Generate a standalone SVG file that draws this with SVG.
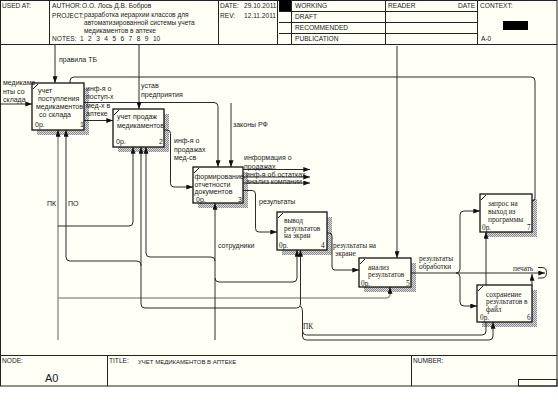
<svg xmlns="http://www.w3.org/2000/svg" width="558" height="404" viewBox="0 0 558 404">
<style>
.f{fill:none;stroke:#222;stroke-width:1}
.t{font-family:"Liberation Sans",Arial,sans-serif;font-size:7px;fill:#1a1a1a}
.h{font-family:"Liberation Sans",Arial,sans-serif;font-size:6.6px;fill:#1a1a1a}
.s{font-family:"Liberation Serif","Times New Roman",serif;font-size:7.3px;fill:#1a1a1a}
.c{fill:none;stroke:#2a2a2a;stroke-width:1}
.g{fill:none;stroke:#9a9a9a;stroke-width:1.6}
.box{fill:#fffff6;stroke:#111;stroke-width:1.3}
.sh{fill:url(#hatch)}
.tick{stroke:#111;stroke-width:1}
</style>
<defs>
<pattern id="hatch" width="2" height="2" patternUnits="userSpaceOnUse"><rect width="2" height="2" fill="#dcdcdc"/><rect width="1" height="1" fill="#8a8a8a"/><rect x="1" y="1" width="1" height="1" fill="#8a8a8a"/></pattern>
<marker id="ah" viewBox="0 0 8 6" refX="8" refY="3" markerWidth="7" markerHeight="5" orient="auto" markerUnits="userSpaceOnUse"><path d="M0,0 L8,3 L0,6 z" fill="#111"/></marker>
<marker id="as" viewBox="0 0 8 6" refX="8" refY="3" markerWidth="7" markerHeight="5" orient="auto-start-reverse" markerUnits="userSpaceOnUse"><path d="M0,0 L8,3 L0,6 z" fill="#111"/></marker>
</defs>
<rect width="558" height="404" fill="#ffffff"/>
<rect x="0" y="0" width="558" height="386" fill="#fffff6"/>
<g id="frame">
<rect x="0.5" y="0.5" width="556.5" height="385.5" class="f"/>
<path class="f" d="M0,44.5 H557 M49.5,0 V44 M218.5,0 V44 M277.5,0 V44 M291.5,0 V44 M385.5,0 V44 M477.5,0 V44 M279,11.5 H477 M279,22.5 H477 M279,33.5 H477"/>
<rect x="279" y="0" width="12" height="11" fill="#000"/>
<rect x="503" y="21" width="25" height="9" fill="#000"/>
<text class="h" x="2" y="8">USED AT:</text>
<text class="h" x="52" y="8">AUTHOR:</text>
<text class="h" x="82" y="8">О.О. Лось  Д.В. Бобров</text>
<text class="h" x="52" y="18">PROJECT:</text>
<text class="h" x="84" y="17">разработка иерархии классов для</text>
<text class="h" x="84" y="25">автоматизированной системы учета</text>
<text class="h" x="84" y="33">медикаментов в аптеке</text>
<text class="h" x="52" y="41">NOTES:</text>
<text class="h" x="80" y="41" word-spacing="2.6">1 2 3 4 5 6 7 8 9 10</text>
<text class="h" x="220" y="8">DATE:</text>
<text class="h" x="244" y="8">29.10.2011</text>
<text class="h" x="220" y="18">REV:</text>
<text class="h" x="244" y="18">12.11.2011</text>
<text class="h" x="295" y="8">WORKING</text>
<text class="h" x="295" y="19">DRAFT</text>
<text class="h" x="295" y="30">RECOMMENDED</text>
<text class="h" x="295" y="41">PUBLICATION</text>
<text class="h" x="388" y="8">READER</text>
<text class="h" x="458" y="8">DATE</text>
<text class="h" x="480" y="8">CONTEXT:</text>
<text class="h" x="481" y="41">A-0</text>
<path class="f" d="M0,355.5 H557 M107.5,355 V386 M411.5,355 V386"/>
<rect x="518.5" y="379.5" width="38.5" height="6.5" class="f"/>
<text class="h" x="2" y="363">NODE:</text>
<text class="h" x="109" y="363">TITLE:</text>
<text class="h" x="138" y="364" style="font-size:6px">УЧЕТ МЕДИКАМЕНТОВ В АПТЕКЕ</text>
<text class="h" x="413" y="363">NUMBER:</text>
<text class="t" x="45" y="382" style="font-size:11px">A0</text>
</g>
<g id="shadows">
<rect class="sh" x="37" y="88" width="52" height="47"/>
<rect class="sh" x="118" y="114" width="51" height="38"/>
<rect class="sh" x="198" y="172" width="50" height="36"/>
<rect class="sh" x="282" y="217" width="50" height="38"/>
<rect class="sh" x="364" y="263" width="52" height="29"/>
<rect class="sh" x="482" y="290" width="55" height="37"/>
<rect class="sh" x="485" y="199" width="52" height="38"/>
</g>
<g id="connectors">
<path class="c" marker-end="url(#ah)" d="M55,44 V83"/>
<path class="c" marker-end="url(#ah)" d="M1,104 H32"/>
<path class="c" marker-end="url(#ah)" d="M84,120.5 H113"/>
<path class="c" marker-end="url(#ah)" d="M84,102.5 H214 Q218,102.5 218,106.5 V167"/>
<path class="c" marker-end="url(#ah)" d="M139,44 V109"/>
<path class="c" marker-end="url(#ah)" d="M231,103 V167"/>
<path class="c" marker-end="url(#ah)" d="M164,130 H167 Q170.5,130 170.5,133.5 V183.5 Q170.5,187 174,187 H193"/>
<path class="c" marker-end="url(#ah)" d="M243,169.5 H310"/>
<path class="c" marker-end="url(#ah)" d="M243,177 H310"/>
<path class="c" marker-end="url(#ah)" d="M243,183 H310"/>
<path class="c" marker-end="url(#ah)" d="M243,190.5 H252 Q255.5,190.5 255.5,194 V228.5 Q255.5,232 259,232 H277"/>
<path class="c" marker-end="url(#ah)" d="M327,233 H329 Q332,233 332,236 V267 Q332,270 335,270 H359"/>
<path class="c" marker-end="url(#ah)" d="M411,273 H545"/>
<path class="c" d="M538,267.5 H542 Q546.5,267.5 546.5,272.5 Q546.5,278 542,278 H538"/>
<path class="c" marker-end="url(#ah)" d="M456,273 Q460,273 460,269 V215 Q460,211 464,211 H480"/>
<path class="c" marker-end="url(#ah)" d="M456,273 Q460,273 460,277 V302 Q460,306 464,306 H477"/>
<path class="c" marker-end="url(#ah)" d="M532,285 V274"/>
<path class="c" d="M532,201 Q535,201 535,198 V81 Q535,77 531,77 H74 Q70,77 70,81 V83"/>
<path class="c" marker-end="url(#ah)" d="M397,46 V258"/>
<path class="g" d="M58,340 V137"/>
<path class="c" marker-end="url(#ah)" d="M58,137 V130"/>
<path class="c" marker-end="url(#ah)" d="M58,226 H129 Q133,226 133,222 V147"/>
<path class="g" d="M58,298 H386 Q390,298 390,294 V293"/>
<path class="c" marker-end="url(#ah)" d="M390,294 V287"/>
<path class="c" marker-start="url(#as)" marker-end="url(#as)" d="M300.5,250 V304 Q300.5,308 296.5,308 H145 Q141,308 141,304 V265 Q141,261 137,261 H70 Q66,261 66,257 V130"/>
<path class="c" marker-end="url(#ah)" d="M141,266 V147"/>
<path class="c" marker-end="url(#ah)" d="M300.5,306 Q302.5,308 302.5,312 V331 Q302.5,335 306.5,335 H482 Q486,335 486,331 V232"/>
<path class="c" marker-end="url(#ah)" d="M302.5,330 V336 Q302.5,340 306.5,340 H489 Q493,340 493,336 V322"/>
<path class="c" marker-end="url(#ah)" d="M215,340 V203"/>
<path class="c" marker-end="url(#ah)" d="M215,261 Q215,257 211,257 H150 Q146,257 146,253 V147"/>
<path class="c" marker-end="url(#ah)" d="M215,278 Q215,282 219,282 H293 Q297,282 297,278 V250"/>
</g>
<g id="node-1">
<rect class="box" x="32" y="83" width="52" height="47"/>
<line class="tick" x1="33" y1="89" x2="38" y2="84"/>
<text class="t" x="38" y="93">учет</text>
<text class="t" x="38" y="101">поступления</text>
<text class="t" x="36" y="108.5">медикаментов</text>
<text class="t" x="39" y="117">со склада</text>
<text class="t" x="35" y="127">0р.</text>
<text class="t" x="80" y="127">1</text>
</g>
<g id="node-2">
<rect class="box" x="113" y="109" width="51" height="38"/>
<line class="tick" x1="114" y1="115" x2="119" y2="110"/>
<text class="t" x="117" y="119">учет продаж</text>
<text class="t" x="117" y="127.5">медикаментов</text>
<text class="t" x="116" y="143.5">0р.</text>
<text class="t" x="159" y="143.5">2</text>
</g>
<g id="node-3">
<rect class="box" x="193" y="167" width="50" height="36"/>
<line class="tick" x1="194" y1="173" x2="199" y2="168"/>
<text class="t" x="194.5" y="178.5">формирование</text>
<text class="t" x="194.5" y="186.5">отчетности</text>
<text class="t" x="194.5" y="194">документов</text>
<text class="t" x="196" y="201.5">0р.</text>
<text class="t" x="238" y="201.5">3</text>
</g>
<g id="node-4">
<rect class="box" x="277" y="212" width="50" height="38"/>
<line class="tick" x1="278" y1="218" x2="283" y2="213"/>
<text class="s" x="284" y="223">вывод</text>
<text class="s" x="284" y="230.5">результатов</text>
<text class="s" x="284" y="238">на экран</text>
<text class="s" x="279" y="247.5">0р.</text>
<text class="s" x="321" y="247.5">4</text>
</g>
<g id="node-5">
<rect class="box" x="359" y="258" width="52" height="29"/>
<line class="tick" x1="360" y1="264" x2="365" y2="259"/>
<text class="s" x="368" y="269.5">анализ</text>
<text class="s" x="368" y="277">результатов</text>
<text class="s" x="361" y="285.5">0р.</text>
<text class="s" x="406" y="285.5">5</text>
</g>
<g id="node-6">
<rect class="box" x="477" y="285" width="55" height="37"/>
<line class="tick" x1="478" y1="291" x2="483" y2="286"/>
<text class="s" x="486" y="296.5">сохранение</text>
<text class="s" x="486" y="304">результатов в</text>
<text class="s" x="486" y="311.5">файл</text>
<text class="s" x="480" y="320">0р.</text>
<text class="s" x="527" y="320">6</text>
</g>
<g id="node-7">
<rect class="box" x="480" y="194" width="52" height="38"/>
<line class="tick" x1="481" y1="200" x2="486" y2="195"/>
<text class="s" x="488" y="205.5">запрос на</text>
<text class="s" x="488" y="213.5">выход из</text>
<text class="s" x="488" y="221.5">программы</text>
<text class="s" x="482" y="229.5">0р.</text>
<text class="s" x="527" y="229.5">7</text>
</g>
<g id="labels">
<text class="t" x="59" y="62">правила ТБ</text>
<text class="t" x="3" y="85">медикаме</text>
<text class="t" x="3" y="94">нты со</text>
<text class="t" x="3" y="102">склада</text>
<text class="t" x="86" y="91">инф-я о</text>
<text class="t" x="86" y="99">поступ-х</text>
<text class="t" x="86" y="107.5">мед-х в</text>
<text class="t" x="86" y="116">аптеке</text>
<text class="t" x="141" y="87.5">устав</text>
<text class="t" x="141" y="96.5">предприятия</text>
<text class="t" x="233" y="127">законы РФ</text>
<text class="t" x="174" y="142.5">инф-я о</text>
<text class="t" x="174" y="151.5">продажах</text>
<text class="t" x="174" y="160">мед-св</text>
<text class="t" x="244" y="160">информация о</text>
<text class="t" x="244" y="168.5">продажах</text>
<text class="t" x="246" y="177">инф-я об остатках</text>
<text class="t" x="246" y="184">анализ компании</text>
<text class="t" x="259" y="204">результаты</text>
<text class="s" x="333" y="247.5">результаты на</text>
<text class="s" x="335" y="256">экране</text>
<text class="s" x="419" y="261">результаты</text>
<text class="s" x="419" y="269">обработки</text>
<text class="s" x="513" y="271">печать</text>
<text class="t" x="218" y="248">сотрудники</text>
<text class="t" x="47" y="206">ПК</text>
<text class="t" x="68" y="206">ПО</text>
<text class="s" x="303" y="329">ПК</text>
</g>
</svg>
